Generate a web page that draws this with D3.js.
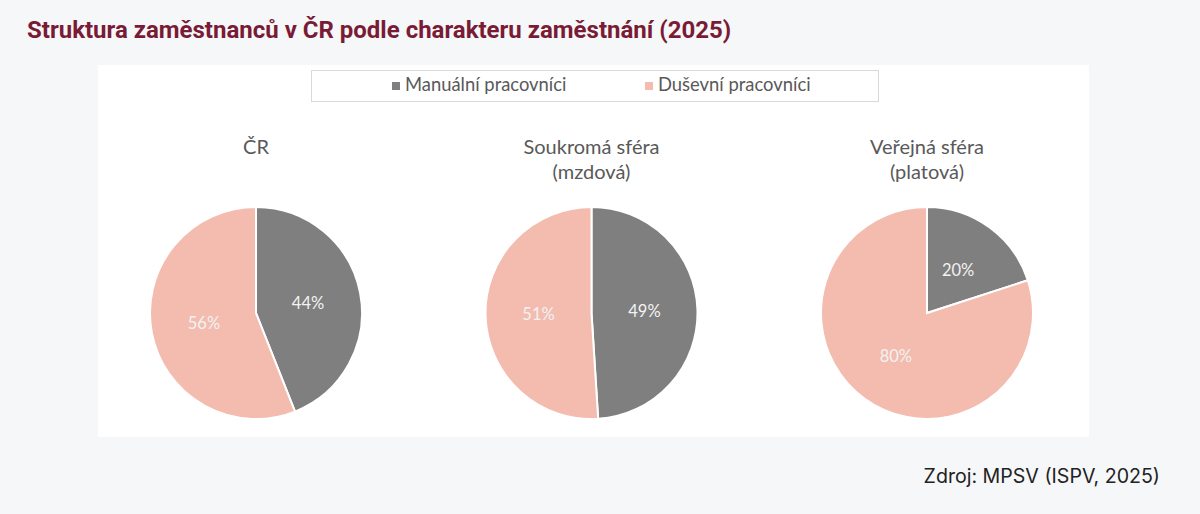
<!DOCTYPE html>
<html lang="cs">
<head>
<meta charset="utf-8">
<script src="https://cdn.jsdelivr.net/npm/d3@7"></script>
<style>
  html, body { margin: 0; padding: 0; background: #f6f7f9; }
  svg { display: block; }
</style>
</head>
<body>
<div id="chart"></div>
<script>
// Struktura zaměstnanců – three pies (ČR, soukromá, veřejná sféra)

// ----- data -----
const groups = ["ČR", "Soukromá sféra (mzdová)", "Veřejná sféra (platová)"];
const groupTitles = [["ČR"], ["Soukromá sféra", "(mzdová)"], ["Veřejná sféra", "(platová)"]];
const categories = ["Manuální pracovníci", "Duševní pracovníci"];
const manualShare = [44, 49, 20];
const mentalShare = [56, 51, 80];

const W = 1200, H = 514;

const svg = d3.select("#chart").append("svg")
  .attr("width", W)
  .attr("height", H);

// page title
svg.append("text")
  .attr("x", 27)
  .attr("y", 38)
  .style("font-family", "Roboto, sans-serif")
  .style("font-weight", "700")
  .style("font-size", "24px")
  .style("fill", "#7a1b36")
  .text("Struktura zaměstnanců v ČR podle charakteru zaměstnání (2025)");

// white chart panel
svg.append("rect")
  .attr("x", 98)
  .attr("y", 65)
  .attr("width", 991)
  .attr("height", 372)
  .attr("fill", "#ffffff");

const color = d3.scaleOrdinal()
  .domain(categories)
  .range(["#7f7f7f", "#f3bcaf"]);

// ----- legend -----
const legend = svg.append("g");
legend.append("rect")
  .attr("x", 311.5)
  .attr("y", 70.5)
  .attr("width", 567)
  .attr("height", 31)
  .attr("fill", "#fff")
  .attr("stroke", "#d9d9d9");

const legendX = d3.scalePoint()
  .domain(categories)
  .range([392, 645]);

const li = legend.selectAll(".li")
  .data(categories)
  .enter()
  .append("g")
  .attr("class", "li")
  .attr("transform", d => `translate(${legendX(d)},86)`);

li.append("rect")
  .attr("x", 0)
  .attr("y", -4)
  .attr("width", 8)
  .attr("height", 8)
  .attr("fill", d => color(d));

li.append("text")
  .attr("x", 13)
  .attr("y", 5)
  .style("font-family", "Lato, sans-serif")
  .style("font-size", "18.4px")
  .style("fill", "#595959")
  .text(d => d);

// ----- pies -----
const x = d3.scalePoint()
  .domain(groups)
  .range([256, 927]);

const r = 106;
const cy = 313;

const pie = d3.pie()
  .sort(null)
  .value(d => d.value);

const arc = d3.arc().innerRadius(0).outerRadius(r);
const labelArc = d3.arc().innerRadius(r * 0.5).outerRadius(r * 0.5);

groups.forEach((g, i) => {
  const slices = [
    { cat: categories[0], value: manualShare[i] },
    { cat: categories[1], value: mentalShare[i] }
  ];

  const pg = svg.append("g")
    .attr("transform", `translate(${x(g)},${cy})`);

  pg.selectAll("path")
    .data(pie(slices))
    .enter()
    .append("path")
    .attr("d", arc)
    .attr("fill", d => color(d.data.cat))
    .attr("stroke", "#ffffff")
    .attr("stroke-width", 2);

  pg.selectAll(".lbl")
    .data(pie(slices))
    .enter()
    .append("text")
    .attr("class", "lbl")
    .attr("transform", d => `translate(${labelArc.centroid(d)})`)
    .attr("text-anchor", "middle")
    .attr("dy", "0.35em")
    .style("font-family", "Lato, sans-serif")
    .style("font-size", "16.5px")
    .style("fill", "#f2f2f2")
    .text(d => d.data.value + "%");

  // group title
  const t = svg.append("text")
    .attr("x", x(g))
    .attr("y", 154)
    .attr("text-anchor", "middle")
    .style("font-family", "Lato, sans-serif")
    .style("font-size", "20px")
    .style("fill", "#595959");
  groupTitles[i].forEach((line, k) => {
    t.append("tspan")
      .attr("x", x(g))
      .attr("dy", k === 0 ? 0 : 25)
      .text(line);
  });
});

// source
svg.append("text")
  .attr("x", 1160)
  .attr("y", 483)
  .attr("text-anchor", "end")
  .style("font-family", "Inter, sans-serif")
  .style("font-size", "19.6px")
  .style("fill", "#222")
  .text("Zdroj: MPSV (ISPV, 2025)");
</script>
</body>
</html>
